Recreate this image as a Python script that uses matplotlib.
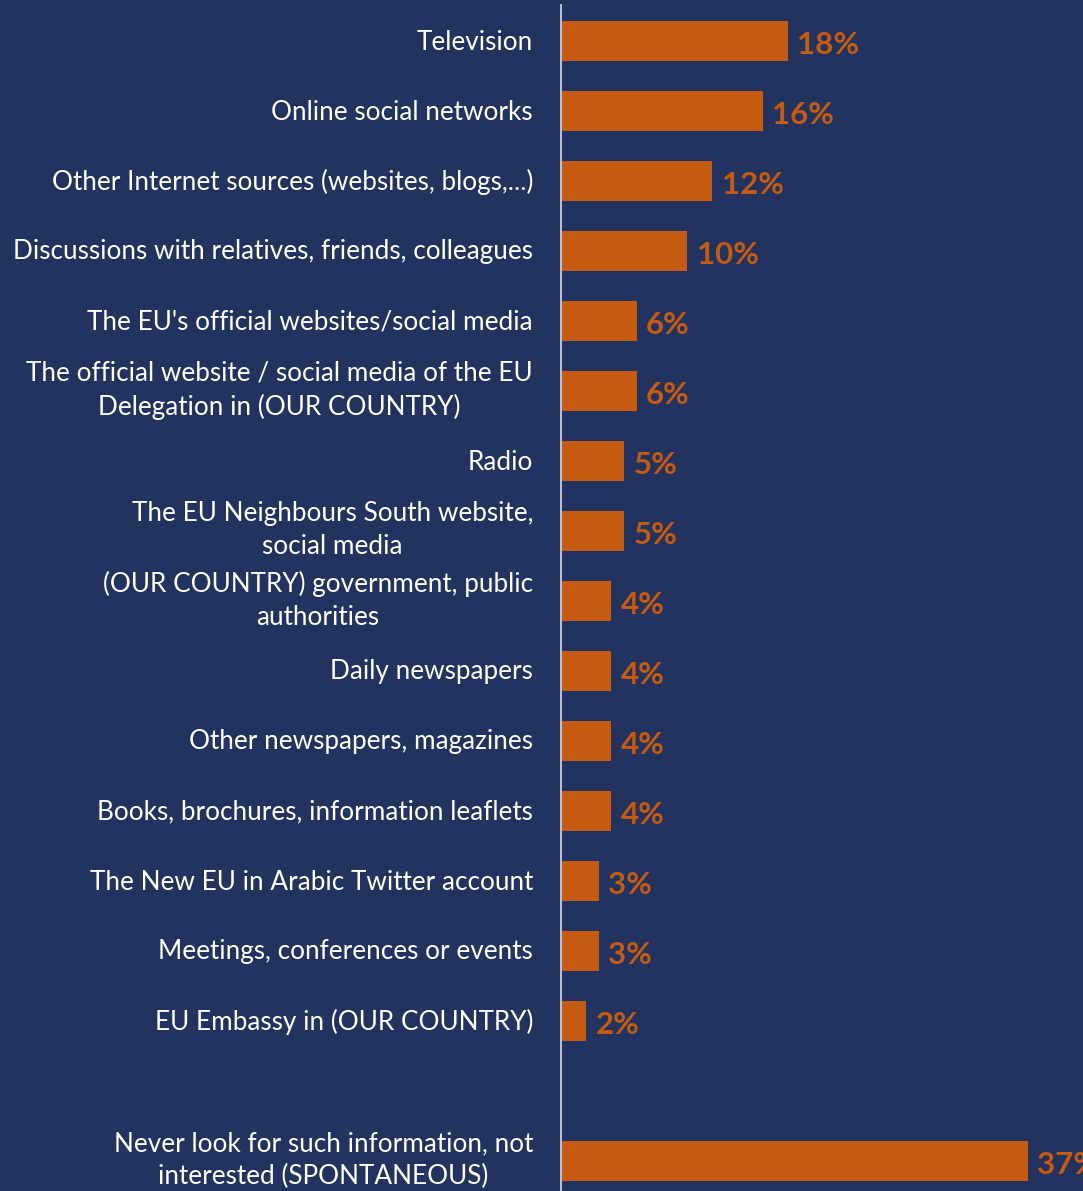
import matplotlib
matplotlib.use("Agg")
import matplotlib.pyplot as plt
from matplotlib.transforms import offset_copy

plt.rcParams['font.family'] = ['Lato', 'DejaVu Sans']

labels = [
    "Television",
    "Online social networks",
    "Other Internet sources (websites, blogs,...)",
    "Discussions with relatives, friends, colleagues",
    "The EU's official websites/social media",
    "The official website / social media of the EU\nDelegation in (OUR COUNTRY)",
    "Radio",
    "The EU Neighbours South website,\nsocial media",
    "(OUR COUNTRY) government, public\nauthorities",
    "Daily newspapers",
    "Other newspapers, magazines",
    "Books, brochures, information leaflets",
    "The New EU in Arabic Twitter account",
    "Meetings, conferences or events",
    "EU Embassy in (OUR COUNTRY)",
    "Never look for such information, not\ninterested (SPONTANEOUS)",
]
values = [18, 16, 12, 10, 6, 6, 5, 5, 4, 4, 4, 4, 3, 3, 2, 37]
# slot index of each bar (gap before the last one)
slots = list(range(15)) + [16]

bg = '#22335F'
bar_col = '#C55A11'

fig = plt.figure(figsize=(10.83, 11.91), dpi=100)
fig.patch.set_facecolor(bg)
ax = fig.add_axes([561 / 1083, 0, 1 - 561 / 1083, 1])
ax.set_facecolor(bg)

ax.barh(slots, values, height=0.57, color=bar_col)
for s, v in zip(slots, values):
    ax.text(v + 0.75, s + 0.05, f"{v}%", color=bar_col, fontsize=22.5,
            fontweight='bold', va='center', ha='left', clip_on=False)

ax.set_xlim(0, 41.4)
ax.set_ylim(16 + 30 / 70, -41 / 70)
ax.set_yticks([])
ax.set_xticks([])

# category labels, right aligned left of the axis line
for s, lab in zip(slots, labels):
    dy = 1 if '\n' in lab else -1
    tr = offset_copy(ax.get_yaxis_transform(), fig=fig, x=-28, y=dy, units='dots')
    ax.text(0, s, lab, transform=tr, ha='right', va='center', color='white',
            fontsize=18.8, multialignment='center', linespacing=1.4, clip_on=False)

for sp in ['top', 'right', 'bottom']:
    ax.spines[sp].set_visible(False)
ax.spines['left'].set_color('#C9CEDA')
ax.spines['left'].set_linewidth(1.3)
ax.spines['left'].set_bounds(16 + 30 / 70, -36 / 70)

fig.savefig('out.png', dpi=100, facecolor=bg)
